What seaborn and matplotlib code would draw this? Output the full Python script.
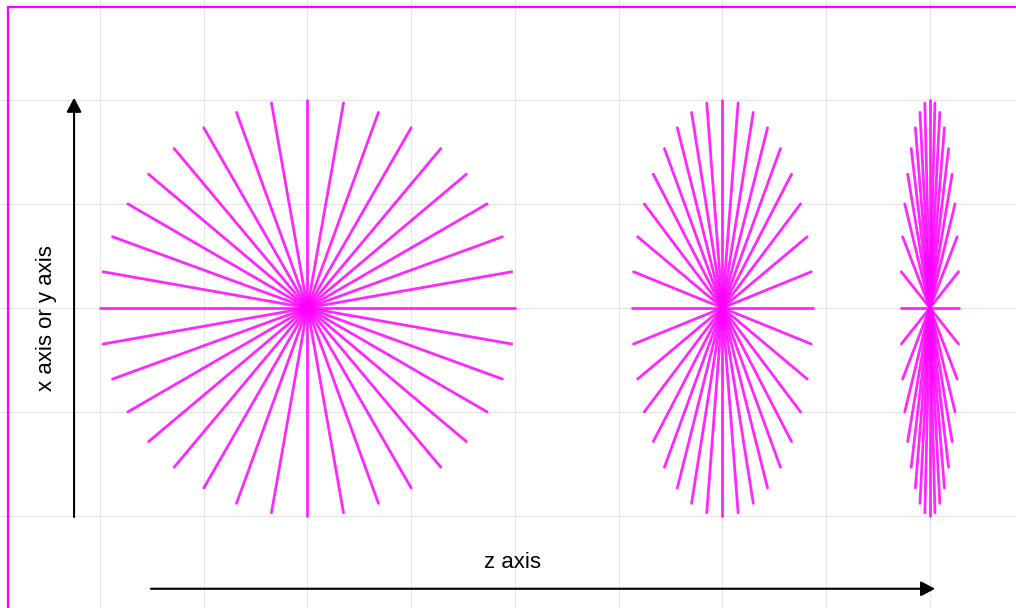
import numpy as np
import pandas as pd
import matplotlib.pyplot as plt
from matplotlib.patches import Rectangle
import seaborn as sns

# ray angles in degrees (one ray every 10 degrees)
angles = [0, 10, 20, 30, 40, 50, 60, 70, 80, 90, 100, 110,
          120, 130, 140, 150, 160, 170, 180, 190, 200, 210, 220, 230,
          240, 250, 260, 270, 280, 290, 300, 310, 320, 330, 340, 350]

# three views of the same starburst, squeezed along z
shape_names = ["face on", "tilted", "edge on"]
shape_centers = [2.0, 6.0, 8.0]
shape_xscale = [1.0, 0.435, 0.14]
radius = 2.0

# axis labels
y_label = "x axis or y axis"
z_label = "z axis"

# build one row per ray end (center + tip)
rows = []
for name, cx, sx in zip(shape_names, shape_centers, shape_xscale):
    for a in angles:
        t = np.deg2rad(a)
        ray = f"{name}-{a}"
        rows.append({"ray": ray, "x": cx, "y": 0.0})
        rows.append({"ray": ray, "x": cx + radius * sx * np.sin(t),
                     "y": radius * np.cos(t)})
df = pd.DataFrame(rows)

sns.set_style("whitegrid")
plt.rcParams["font.family"] = ["Liberation Sans", "DejaVu Sans"]

fig = plt.figure(figsize=(10.16, 6.08), dpi=100)
ax = fig.add_axes([0, 0, 1, 1])

sns.lineplot(
    data=df, x="x", y="y", units="ray", estimator=None, sort=False,
    color="#ff00ff", linewidth=2.0, alpha=0.85, ax=ax, legend=False
)

ax.set_xlim(-0.964, 8.83)
ax.set_ylim(-2.885, 2.96)
ax.set_xticks(range(0, 9))
ax.set_yticks(range(-2, 3))
ax.set_xticklabels([])
ax.set_yticklabels([])
ax.tick_params(length=0)
ax.set_xlabel("")
ax.set_ylabel("")
ax.grid(True, color="#e6e6e6", linewidth=0.8)
for s in ax.spines.values():
    s.set_visible(False)

arrow = dict(arrowstyle="-|>,head_length=0.85,head_width=0.45",
             color="black", lw=1.5, shrinkA=0, shrinkB=0, mutation_scale=10)
ax.annotate("", xy=(-0.25, 2.02), xytext=(-0.25, -2.01), arrowprops=arrow)
ax.annotate("", xy=(8.05, -2.70), xytext=(0.49, -2.70), arrowprops=arrow)

ax.text(-0.52, -0.1, y_label, rotation=90, ha="center", va="center",
        fontsize=16, color="black")
ax.text(3.98, -2.45, z_label, ha="center", va="center",
        fontsize=16, color="black")

# magenta frame (only left and top edges fall inside the image)
fig.add_artist(Rectangle((8 / 1016, -0.1), 1.2, 0.1 + 601 / 608,
                         transform=fig.transFigure, fill=False,
                         edgecolor="#ff00ff", linewidth=1.6, clip_on=False))

plt.savefig("out.png", dpi=100)
